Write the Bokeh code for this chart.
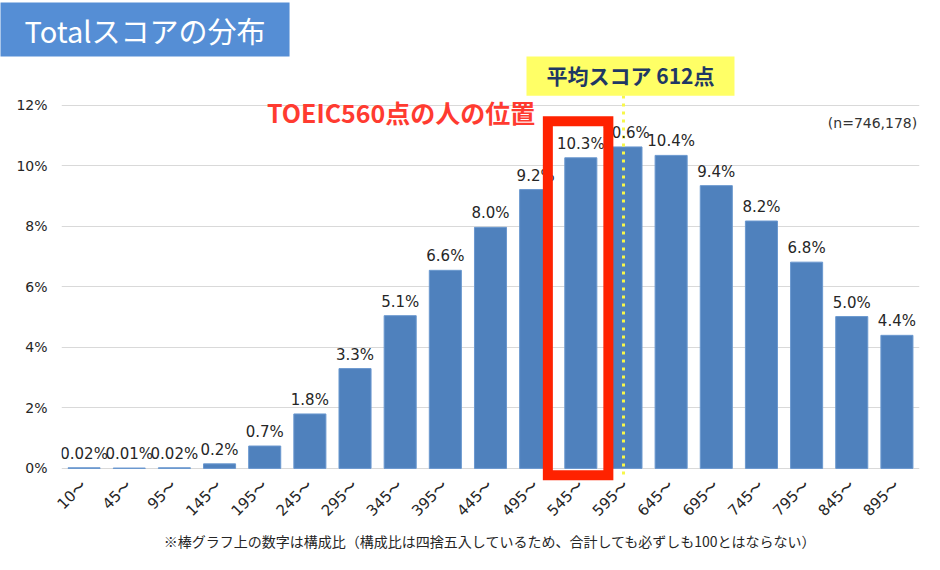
import math
from bokeh.plotting import figure
from bokeh.models import Range1d, FixedTicker, PrintfTickFormatter, LabelSet, ColumnDataSource, Title
from bokeh.core.properties import value
from bokeh.embed import file_html
from bokeh.resources import INLINE

# ---- data ----
categories = ["10〜", "45〜", "95〜", "145〜", "195〜", "245〜", "295〜", "345〜", "395〜",
              "445〜", "495〜", "545〜", "595〜", "645〜", "695〜", "745〜", "795〜", "845〜", "895〜"]
shares = [0.02, 0.01, 0.02, 0.15, 0.74, 1.8, 3.3, 5.05, 6.55, 7.97, 9.22, 10.27, 10.63,
          10.35, 9.35, 8.18, 6.82, 5.02, 4.4]
share_labels = ["0.02%", "0.01%", "0.02%", "0.2%", "0.7%", "1.8%", "3.3%", "5.1%", "6.6%",
                "8.0%", "9.2%", "10.3%", "10.6%", "10.4%", "9.4%", "8.2%", "6.8%", "5.0%", "4.4%"]
y_ticks = [0, 2, 4, 6, 8, 10, 12]
title_text = "Totalスコアの分布"
mean_text = "平均スコア 612点"
mark_text = "TOEIC560点の人の位置"
n_text = "(n=746,178)"
note_text = "※棒グラフ上の数字は構成比（構成比は四捨五入しているため、合計しても必ずしも100とはならない）"

xs = list(range(len(categories)))

p = figure(width=924, height=554,
           x_range=Range1d(-0.5, len(categories) - 0.5),
           y_range=Range1d(-0.40, 13.62),
           output_backend="svg", toolbar_location=None,
           min_border_left=61, min_border_right=5, min_border_top=0, min_border_bottom=74)
p.outline_line_color = None
p.background_fill_color = "white"
p.border_fill_color = "white"

# title box
p.title = Title(text=title_text, align="left", offset=-61, standoff=0,
                text_font="Noto Sans CJK JP", text_font_size="29px", text_font_style="normal",
                text_color="white", background_fill_color="#558ed5",
                padding=dict(left=24, right=24, top=6, bottom=6))

# bars
src = ColumnDataSource(dict(x=xs, top=shares, label=share_labels))
p.vbar(x="x", top="top", width=0.71, source=src,
       fill_color="#4f81bd", line_color="#6a98cf", line_width=1)

# value labels
labels = LabelSet(x="x", y="top", text="label", source=src, y_offset=9,
                  text_align="center", text_baseline="alphabetic",
                  text_font=value("DejaVu Sans"), text_font_size="15px", text_color="#262626")
p.add_layout(labels)

# axes
p.xaxis.ticker = FixedTicker(ticks=xs)
p.xaxis.major_label_overrides = {i: c for i, c in enumerate(categories)}
p.xaxis.major_label_orientation = math.pi / 4
p.xaxis.major_label_text_font = "DejaVu Sans"
p.xaxis.major_label_text_font_size = "15px"
p.xaxis.major_label_text_color = "#262626"
p.xaxis.axis_line_color = None
p.xaxis.major_tick_line_color = None
p.xaxis.major_tick_out = 0
p.xaxis.minor_tick_line_color = None
p.xaxis.major_label_standoff = 2
p.xaxis.axis_label = note_text
p.xaxis.axis_label_text_font = "Noto Sans CJK JP"
p.xaxis.axis_label_text_font_style = "normal"
p.xaxis.axis_label_text_font_size = "14px"
p.xaxis.axis_label_text_color = "#262626"
p.xaxis.axis_label_standoff = 2

p.yaxis.ticker = FixedTicker(ticks=y_ticks)
p.yaxis.formatter = PrintfTickFormatter(format="%d%%")
p.yaxis.major_label_text_font = "DejaVu Sans"
p.yaxis.major_label_text_font_size = "14px"
p.yaxis.major_label_text_color = "#262626"
p.yaxis.axis_line_color = None
p.yaxis.major_tick_line_color = None
p.yaxis.major_tick_out = 0
p.yaxis.minor_tick_line_color = None
p.yaxis.major_label_standoff = 14

p.xgrid.grid_line_color = None
p.ygrid.ticker = FixedTicker(ticks=y_ticks)
p.ygrid.grid_line_color = "#d9d9d9"
p.ygrid.grid_line_width = 1

# red highlight frame around 545~ (drawn above the value labels)
i545 = categories.index("545〜")
p.quad(left=[i545 - 0.73], right=[i545 + 0.61], top=[11.475], bottom=[-0.23],
       fill_color=None, line_color="#ff2200", line_width=10, line_join="miter",
       level="overlay")

# mean score dotted line
i595 = categories.index("595〜")
p.segment(x0=[i595 - 0.055], y0=[12.33], x1=[i595 - 0.055], y1=[-0.2],
          line_color="#f7f74a", line_width=3, line_dash="3 5")

# mean score box
p.rect(x=[i595 + 0.1], y=[13.016], width=208, height=42,
       width_units="screen", height_units="screen",
       fill_color="#ffff66", line_color=None)
p.text(x=[i595 + 0.1], y=[13.016], text=[mean_text], text_align="center", text_baseline="middle",
       text_font=value("Noto Sans CJK JP"), text_font_style="bold", text_font_size="21px",
       text_color="#1f3864")

# red caption
p.text(x=[4.05], y=[11.80], text=[mark_text], text_align="left", text_baseline="middle",
       text_font=value("Noto Sans CJK JP"), text_font_style="bold", text_font_size="25px",
       text_color="#ff3b30")

# n label
p.text(x=[18.45], y=[11.41], text=[n_text], text_align="right", text_baseline="middle",
       text_font=value("DejaVu Sans"), text_font_size="14px", text_color="#333333")

open("out.html", "w").write(file_html(p, INLINE))
